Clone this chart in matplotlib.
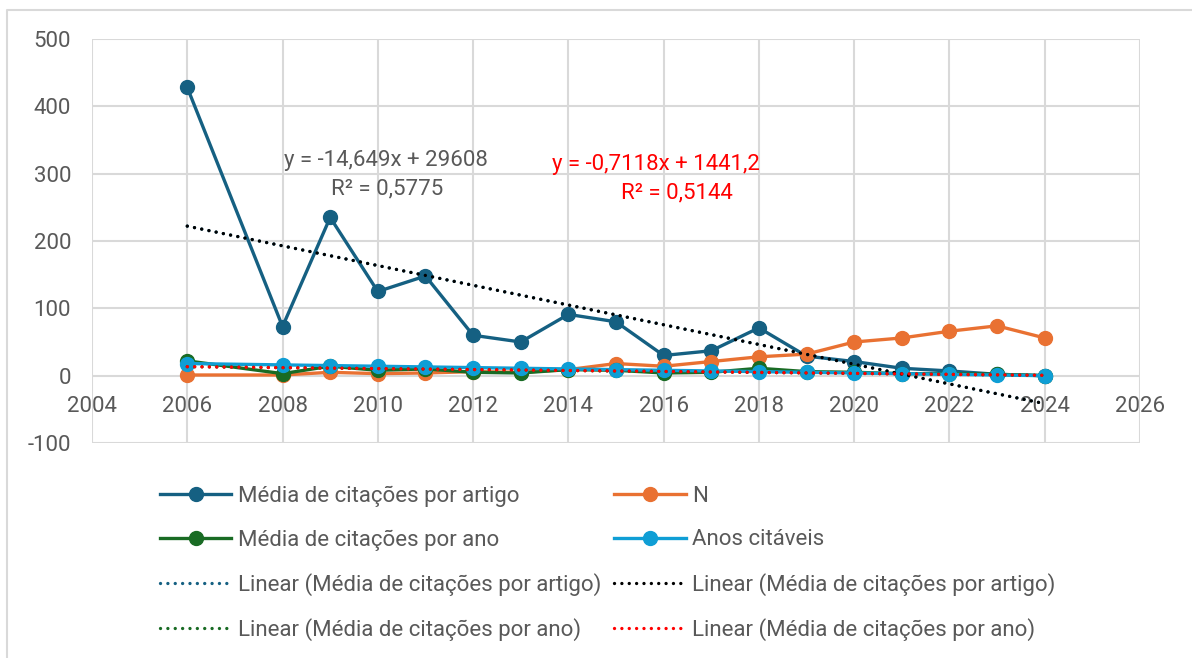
import numpy as np
import matplotlib
matplotlib.use('Agg')
import matplotlib.pyplot as plt
from matplotlib.lines import Line2D

plt.rcParams['font.family'] = ['Roboto', 'DejaVu Sans']
plt.rcParams['axes.unicode_minus'] = False

# data
anos = [2006, 2008, 2009, 2010, 2011, 2012, 2013, 2014, 2015,
        2016, 2017, 2018, 2019, 2020, 2021, 2022, 2023, 2024]
media_artigo = [428, 73, 235, 125, 148, 60, 50, 91, 80,
                30, 37, 71, 29, 21, 11, 7, 2, 0]
n_artigos = [1, 1, 5, 3, 4, 6, 5, 9, 18,
             14, 21, 28, 32, 50, 56, 66, 74, 56]
media_ano = [22, 3, 14, 8, 10, 5, 4, 9, 8,
             4, 5, 11, 6, 5, 3, 3, 2, 0]
anos_citaveis = [18, 16, 15, 14, 13, 12, 11, 10, 9,
                 8, 7, 6, 5, 4, 3, 2, 1, 0]

# trendline coefficients as printed on the chart
fit_artigo = (-14.649, 29608)
fit_ano = (-0.7118, 1441.2)

c_artigo = '#156082'
c_n = '#E97132'
c_ano = '#196B24'
c_anos = '#0F9ED5'
grey = '#595959'

fig = plt.figure(figsize=(11.92, 6.58), dpi=100)
ax = fig.add_axes([92/1192, 1 - 443/658, (1140-92)/1192, (443-39)/658])

# chart frame: only left and top edges fall inside the picture
fig.lines.append(Line2D([7/1192, 7/1192, 1.0], [0.0, 1 - 10/658, 1 - 10/658],
                        transform=fig.transFigure, color='#d9d9d9', linewidth=1.5))

x = np.array(anos)
mk = dict(marker='o', markersize=10, linewidth=2.4)
l1, = ax.plot(x, media_artigo, color=c_artigo, label='Média de citações por artigo', zorder=3, **mk)
l2, = ax.plot(x, n_artigos, color=c_n, label='N', zorder=3, **mk)
l3, = ax.plot(x, media_ano, color=c_ano, label='Média de citações por ano', zorder=3, **mk)
l4, = ax.plot(x, anos_citaveis, color=c_anos, label='Anos citáveis', zorder=3, **mk)

xt = np.array([anos[0], anos[-1]])
dot = dict(linestyle=(0, (0.01, 2.2)), linewidth=2.4, dash_capstyle='round')
t1, = ax.plot(xt, fit_artigo[0]*xt + fit_artigo[1], color=c_artigo, zorder=4,
              label='Linear (Média de citações por artigo)', **dot)
t2, = ax.plot(xt, fit_artigo[0]*xt + fit_artigo[1], color='black', zorder=5,
              label='Linear (Média de citações por artigo)', **dot)
t3, = ax.plot(xt, fit_ano[0]*xt + fit_ano[1], color=c_ano, zorder=4,
              label='Linear (Média de citações por ano)', **dot)
t4, = ax.plot(xt, fit_ano[0]*xt + fit_ano[1], color='red', zorder=5,
              label='Linear (Média de citações por ano)', **dot)

ax.text(2010.17, 320, 'y = -14,649x + 29608', ha='center', va='center', fontsize=16, color=grey)
ax.text(2010.19, 278, 'R² = 0,5775', ha='center', va='center', fontsize=16, color=grey)
ax.text(2015.84, 313, 'y = -0,7118x + 1441,2', ha='center', va='center', fontsize=16, color='red')
ax.text(2016.28, 272, 'R² = 0,5144', ha='center', va='center', fontsize=16, color='red')

ax.set_xlim(2004, 2026)
ax.set_ylim(-100, 500)
ax.set_xticks(range(2004, 2027, 2))
ax.set_yticks(range(-100, 501, 100))
ax.grid(True, color='#d9d9d9', linewidth=1.5, zorder=0)
ax.set_axisbelow(True)
for s in ax.spines.values():
    s.set_visible(False)
ax.spines['bottom'].set_position(('data', 0))
ax.tick_params(axis='both', length=0, labelsize=16, labelcolor=grey)
ax.tick_params(axis='x', pad=15)
ax.tick_params(axis='y', pad=15)

handles = [l1, l3, t1, t3, l2, l4, t2, t4]
fig.legend(handles=handles, labels=[h.get_label() for h in handles], ncol=2,
           loc='upper left', bbox_to_anchor=(140/1192, 1 - 466/658), frameon=False,
           fontsize=16, labelcolor=grey, handlelength=3.2, handletextpad=0.3,
           columnspacing=0.6, labelspacing=1.0)

fig.savefig('out.png', dpi=100)
